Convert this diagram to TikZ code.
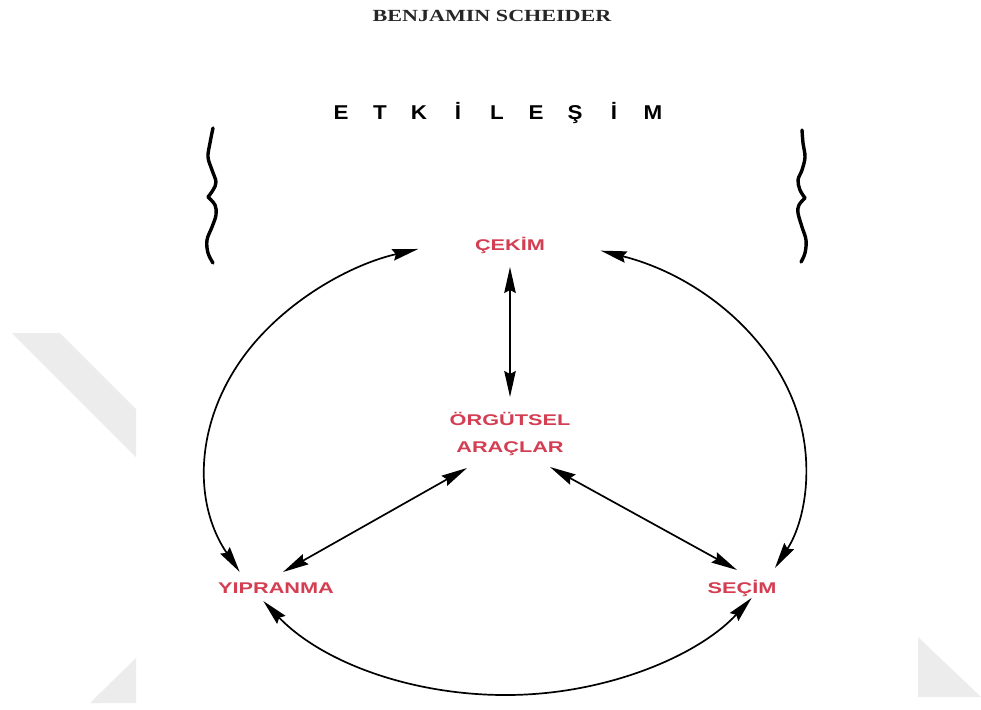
\documentclass[tikz,border=0pt]{standalone}
\usepackage{fontspec}
\setmainfont{Liberation Sans}
\newfontfamily\titlefont{Liberation Serif}
\usetikzlibrary{arrows.meta,calc}
\definecolor{lblred}{RGB}{212,62,82}
\definecolor{wmgray}{RGB}{236,236,236}
\newcommand\wide[1]{\scalebox{1.4}[1]{#1}}
\newcommand\lsbox[1]{\makebox[39pt]{\scalebox{1.12}[1]{#1}}}
\tikzset{
  arr/.style={line width=1.7pt, {Stealth[length=26pt,width=11.5pt,inset=3pt]}-{Stealth[length=26pt,width=11.5pt,inset=3pt]}},
  lbl/.style={text=lblred, font=\bfseries\fontsize{15.5}{27}\selectfont, inner sep=0pt, align=center},
  bracestroke/.style={line width=3.4pt, line cap=round, line join=round},
  wm/.style={fill=wmgray}
}
\begin{document}
\begin{tikzpicture}[x=1pt,y=-1pt]
\fill[white] (0,0) rectangle (981,709);
\useasboundingbox (0,0) rectangle (981,709);
% watermark shapes
\fill[wm] (12,333) -- (60,333) -- (136,409) -- (136,457) -- cycle;
\fill[wm] (90,703) -- (136,658) -- (136,703) -- cycle;
\fill[wm] (918,637) -- (918,697) -- (981,697) -- cycle;

% texts
\node[font=\titlefont\bfseries\fontsize{17}{20}\selectfont, text=black!85, inner sep=0pt] (title) at (492,16) {\scalebox{1.3}[1]{BENJAMIN SCHEIDER}};
\node[font=\bfseries\fontsize{20}{22}\selectfont, inner sep=0pt] (etk) at (497,113)
  {\lsbox{E}\lsbox{T}\lsbox{K}\lsbox{İ}\lsbox{L}\lsbox{E}\lsbox{Ş}\lsbox{İ}\lsbox{M}};

% braces
\draw[bracestroke] plot[smooth, tension=0.6] coordinates {(213,128) (210,143) (208,157) (212,170) (216,182) (213,190) (208,197)};
\draw[bracestroke] plot[smooth, tension=0.6] coordinates {(208,197) (215,205) (216,215) (212,227) (207,240) (208,253) (213,263)};
\draw[bracestroke] plot[smooth, tension=0.6] coordinates {(802,130) (803,143) (805,157) (802,170) (798,180) (800,190) (805,198)};
\draw[bracestroke] plot[smooth, tension=0.6] coordinates {(805,198) (799,205) (798,213) (802,227) (806,240) (805,253) (801,262)};

% nodes
\node[lbl] (cekim) at (510,245) {\wide{ÇEKİM}};
\node[lbl] (org) at (510,434) {\wide{ÖRGÜTSEL}\\\wide{ARAÇLAR}};
\node[lbl] (yip) at (276,588) {\wide{YIPRANMA}};
\node[lbl] (sec) at (742,588) {\wide{SEÇİM}};

% ellipse centre for the outer arcs
\coordinate (E) at (506,467);
\coordinate (yipTop) at ($(E)+(152.6:300 and 228)$);
\coordinate (cekR) at ($(E)+(-71.6:300 and 228)$);
\coordinate (yipBot) at ($(E)+(144:300 and 228)$);

\draw[arr] (yipTop) arc[start angle=152.6, end angle=253, x radius=300, y radius=228];
\draw[arr] (cekR) arc[start angle=-71.6, end angle=26.3, x radius=300, y radius=228];
\draw[arr] (yipBot) arc[start angle=144, end angle=35, x radius=300, y radius=228];

% straight connectors
\draw[arr] ($(cekim)+(0,22)$) -- ($(org)+(0,-37)$);
\draw[arr] ($(org)+(-43,34)$) -- ($(yip)+(7,-16)$);
\draw[arr] ($(org)+(40,33)$) -- ($(sec)+(-5,-18)$);
\end{tikzpicture}
\end{document}
